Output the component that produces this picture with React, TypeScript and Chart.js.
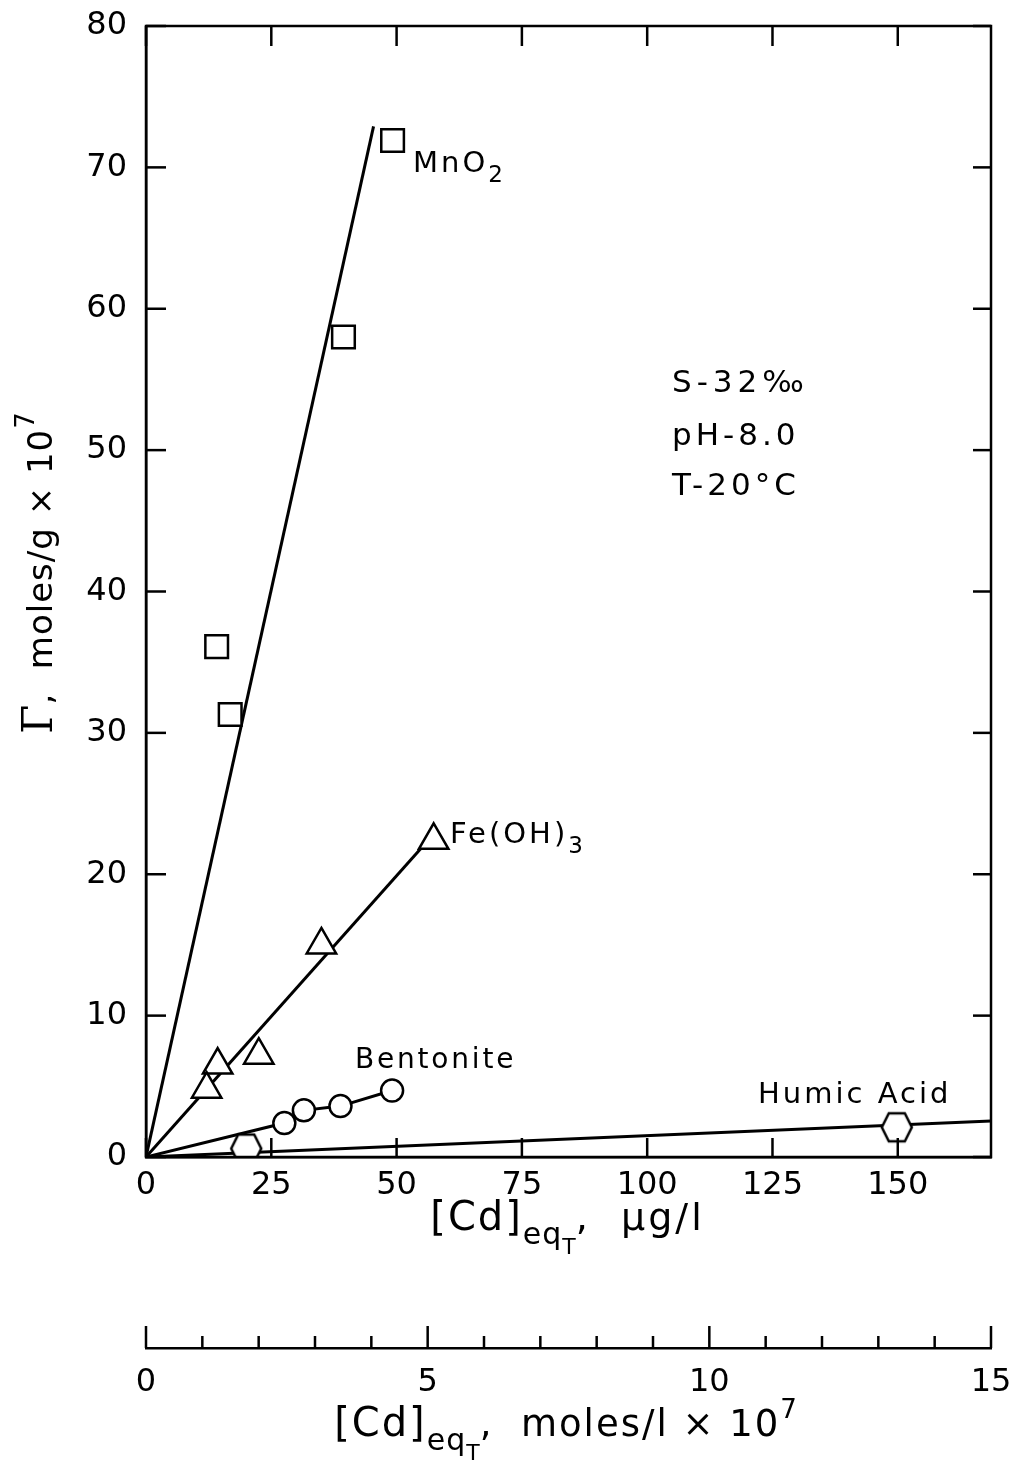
import { useEffect, useRef } from 'react';
import { Chart, registerables } from 'chart.js';

Chart.register(...registerables);

// MnO2 (squares) and its fitted line
const mno2X = [49.2, 39.4, 14.1, 16.8];
const mno2Y = [71.9, 58.0, 36.1, 31.3];
const mno2LineX = [0, 45.4];
const mno2LineY = [0, 72.9];

// Fe(OH)3 (triangles)
const feX = [57.4, 35.0, 14.3, 12.1, 22.5];
const feY = [22.4, 15.0, 6.5, 4.8, 7.2];
const feLineX = [0, 54.8];
const feLineY = [0, 21.8];

// Bentonite (circles), joined from the origin
const bentX = [27.6, 31.5, 38.8, 49.1];
const bentY = [2.4, 3.3, 3.6, 4.7];

// Humic acid (hexagons)
const humicX = [20.0, 149.8];
const humicY = [0.6, 2.1];
const humicLineX = [0, 168.6];
const humicLineY = [0, 2.55];

const xTicks = [0, 25, 50, 75, 100, 125, 150];
const yTicks = [0, 10, 20, 30, 40, 50, 60, 70, 80];
const molTicks = [0, 5, 10, 15];
const molMinorTicks = [0, 1, 2, 3, 4, 5, 6, 7, 8, 9, 10, 11, 12, 13, 14, 15];

const SANS = '"DejaVu Sans", sans-serif';
const SERIF = '"DejaVu Serif", serif';

const pts = (xs: number[], ys: number[]) => xs.map((x, i) => ({ x, y: ys[i] }));

type Run = { text: string; size: number; dy?: number; family?: string; sp?: number };

function setRun(ctx: CanvasRenderingContext2D, r: Run) {
  ctx.font = `${r.size}px ${r.family || SANS}`;
  (ctx as any).letterSpacing = `${r.sp ?? 0}px`;
}

function runsWidth(ctx: CanvasRenderingContext2D, runs: Run[]) {
  let w = 0;
  runs.forEach(r => {
    setRun(ctx, r);
    w += ctx.measureText(r.text).width;
  });
  return w;
}

function drawRuns(ctx: CanvasRenderingContext2D, x: number, y: number, runs: Run[], center = false) {
  let cx = center ? x - runsWidth(ctx, runs) / 2 : x;
  ctx.textAlign = 'left';
  ctx.textBaseline = 'alphabetic';
  runs.forEach(r => {
    setRun(ctx, r);
    ctx.fillText(r.text, cx, y + (r.dy || 0));
    cx += ctx.measureText(r.text).width;
  });
  (ctx as any).letterSpacing = '0px';
}

const noPad = (s: any) => {
  s.paddingTop = 0;
  s.paddingBottom = 0;
  s.paddingLeft = 0;
  s.paddingRight = 0;
};

export default function App() {
  const canvasRef = useRef<HTMLCanvasElement>(null);

  useEffect(() => {
    if (!canvasRef.current) return;

    // hexagon marker for humic acid
    const hex = document.createElement('canvas');
    hex.width = 36;
    hex.height = 34;
    const h = hex.getContext('2d')!;
    h.beginPath();
    h.moveTo(3, 17);
    h.lineTo(10, 3);
    h.lineTo(26, 3);
    h.lineTo(33, 17);
    h.lineTo(26, 31);
    h.lineTo(10, 31);
    h.closePath();
    h.fillStyle = '#fff';
    h.fill();
    h.lineWidth = 2.5;
    h.strokeStyle = '#000';
    h.stroke();

    const framePlugin = {
      id: 'frame',
      beforeDraw(chart: Chart) {
        const ctx = chart.ctx;
        ctx.save();
        ctx.fillStyle = '#fff';
        ctx.fillRect(0, 0, chart.width, chart.height);
        ctx.restore();
      },
      afterDraw(chart: Chart) {
        const ctx = chart.ctx;
        const { left, right, top, bottom } = chart.chartArea;
        const xs = chart.scales.x;
        const ys = chart.scales.y;
        const ms = chart.scales.mol;
        const line = (x1: number, y1: number, x2: number, y2: number) => {
          ctx.beginPath();
          ctx.moveTo(x1, y1);
          ctx.lineTo(x2, y2);
          ctx.stroke();
        };
        ctx.save();
        ctx.strokeStyle = '#000';
        ctx.lineWidth = 2.5;
        ctx.strokeRect(left, top, right - left, bottom - top);

        // inward ticks
        yTicks.forEach(v => {
          const py = ys.getPixelForValue(v);
          line(left, py, left + 20, py);
          line(right - 18, py, right, py);
        });
        xTicks.forEach(v => {
          const px = xs.getPixelForValue(v);
          line(px, bottom, px, bottom - 19);
          line(px, top, px, top + 20);
        });
        const my = ms.top;
        molMinorTicks.forEach(v => {
          const px = ms.getPixelForValue(v);
          const len = molTicks.includes(v) ? 22 : 12;
          line(px, my, px, my - len);
        });

        ctx.fillStyle = '#000';
        // axis titles
        const cx = (left + right) / 2 - 1;
        drawRuns(ctx, cx, 1230, [
          { text: '[Cd]', size: 40, sp: 2 },
          { text: 'eq', size: 30, dy: 14, sp: 1 },
          { text: 'T', size: 22, dy: 24 },
          { text: ',  \u00b5g/l', size: 38, sp: 3 },
        ], true);
        drawRuns(ctx, cx - 2, 1436, [
          { text: '[Cd]', size: 40, sp: 2 },
          { text: 'eq', size: 30, dy: 14, sp: 1 },
          { text: 'T', size: 22, dy: 24 },
          { text: ',  moles/l \u00d7 10', size: 37, sp: 2 },
          { text: '7', size: 26, dy: -18 },
        ], true);

        ctx.save();
        ctx.translate(52, 573);
        ctx.rotate(-Math.PI / 2);
        drawRuns(ctx, 0, 0, [
          { text: '\u0393', size: 42, family: SERIF },
          { text: ',  moles/g \u00d7 10', size: 34, sp: 1 },
          { text: '7', size: 26, dy: -18 },
        ], true);
        ctx.restore();

        // series labels
        drawRuns(ctx, 413, 172, [
          { text: 'MnO', size: 29, sp: 3 },
          { text: '2', size: 23, dy: 10 },
        ]);
        drawRuns(ctx, 450, 843, [
          { text: 'Fe(OH)', size: 29, sp: 3 },
          { text: '3', size: 23, dy: 10 },
        ]);
        drawRuns(ctx, 355, 1068, [{ text: 'Bentonite', size: 28, sp: 2.8 }]);
        drawRuns(ctx, 758, 1103, [{ text: 'Humic Acid', size: 29, sp: 3 }]);

        // conditions
        drawRuns(ctx, 672, 392, [{ text: 'S-32\u2030', size: 31, sp: 5 }]);
        drawRuns(ctx, 672, 445, [{ text: 'pH-8.0', size: 31, sp: 4 }]);
        drawRuns(ctx, 672, 495, [{ text: 'T-20\u00b0C', size: 31, sp: 4 }]);
        ctx.restore();
      },
    };

    const pointStyle = {
      showLine: false,
      backgroundColor: '#fff',
      borderColor: '#000',
      borderWidth: 2.5,
      order: 0,
    };
    const lineStyle = {
      showLine: true,
      pointRadius: 0,
      borderColor: '#000',
      borderWidth: 3,
      fill: false,
      order: 1,
    };
    const tickFont = { family: SANS, size: 32 };

    const chart = new Chart(canvasRef.current, {
      type: 'scatter',
      data: {
        datasets: [
          { ...pointStyle, label: 'MnO2', data: pts(mno2X, mno2Y), pointStyle: 'rect', pointRadius: 16 },
          { ...pointStyle, label: 'Fe(OH)3', data: pts(feX, feY), pointStyle: 'triangle', pointRadius: 17 },
          { ...pointStyle, label: 'Bentonite', data: pts(bentX, bentY), pointStyle: 'circle', pointRadius: 11 },
          { ...pointStyle, label: 'Humic Acid', data: pts(humicX, humicY), pointStyle: hex, pointRadius: 15 },
          { ...lineStyle, label: 'MnO2 fit', data: pts(mno2LineX, mno2LineY) },
          { ...lineStyle, label: 'Fe(OH)3 fit', data: pts(feLineX, feLineY) },
          { ...lineStyle, label: 'Bentonite fit', data: pts([0, ...bentX], [0, ...bentY]) },
          { ...lineStyle, label: 'Humic fit', data: pts(humicLineX, humicLineY) },
        ],
      },
      options: {
        responsive: false,
        animation: false,
        devicePixelRatio: 1,
        layout: { padding: { left: 0, top: 26, right: 22, bottom: 0 } },
        plugins: {
          legend: { display: false },
          tooltip: { enabled: false },
        },
        scales: {
          x: {
            type: 'linear',
            position: 'bottom',
            weight: 0,
            min: 0,
            max: 168.6,
            grid: { display: false },
            border: { display: true, color: '#000', width: 2.5 },
            ticks: { color: '#000', font: tickFont, padding: 1, maxRotation: 0, autoSkip: false },
            afterBuildTicks: (s: any) => { s.ticks = xTicks.map(v => ({ value: v })); },
            afterFit: (s: any) => { s.height = 191; noPad(s); },
          },
          mol: {
            type: 'linear',
            position: 'bottom',
            weight: 1,
            min: 0,
            max: 15,
            grid: { display: false },
            border: { display: true, color: '#000', width: 2.5 },
            ticks: { color: '#000', font: tickFont, padding: 7, maxRotation: 0, autoSkip: false },
            afterBuildTicks: (s: any) => { s.ticks = molTicks.map(v => ({ value: v })); },
            afterFit: (s: any) => { s.height = 112; noPad(s); },
          },
          y: {
            type: 'linear',
            position: 'left',
            min: 0,
            max: 80,
            grid: { display: false },
            border: { display: true, color: '#000', width: 2.5 },
            ticks: { color: '#000', font: tickFont, padding: 11 },
            afterBuildTicks: (s: any) => { s.ticks = yTicks.map(v => ({ value: v })); },
            afterFit: (s: any) => { s.width = 146; noPad(s); },
          },
        },
      },
      plugins: [framePlugin],
    });

    return () => {
      chart.destroy();
    };
  }, []);

  return (
    <div style={{ position: 'absolute', left: 0, top: 0, width: 1013, height: 1460, background: '#fff' }}>
      <canvas ref={canvasRef} width={1013} height={1460} />
    </div>
  );
}
